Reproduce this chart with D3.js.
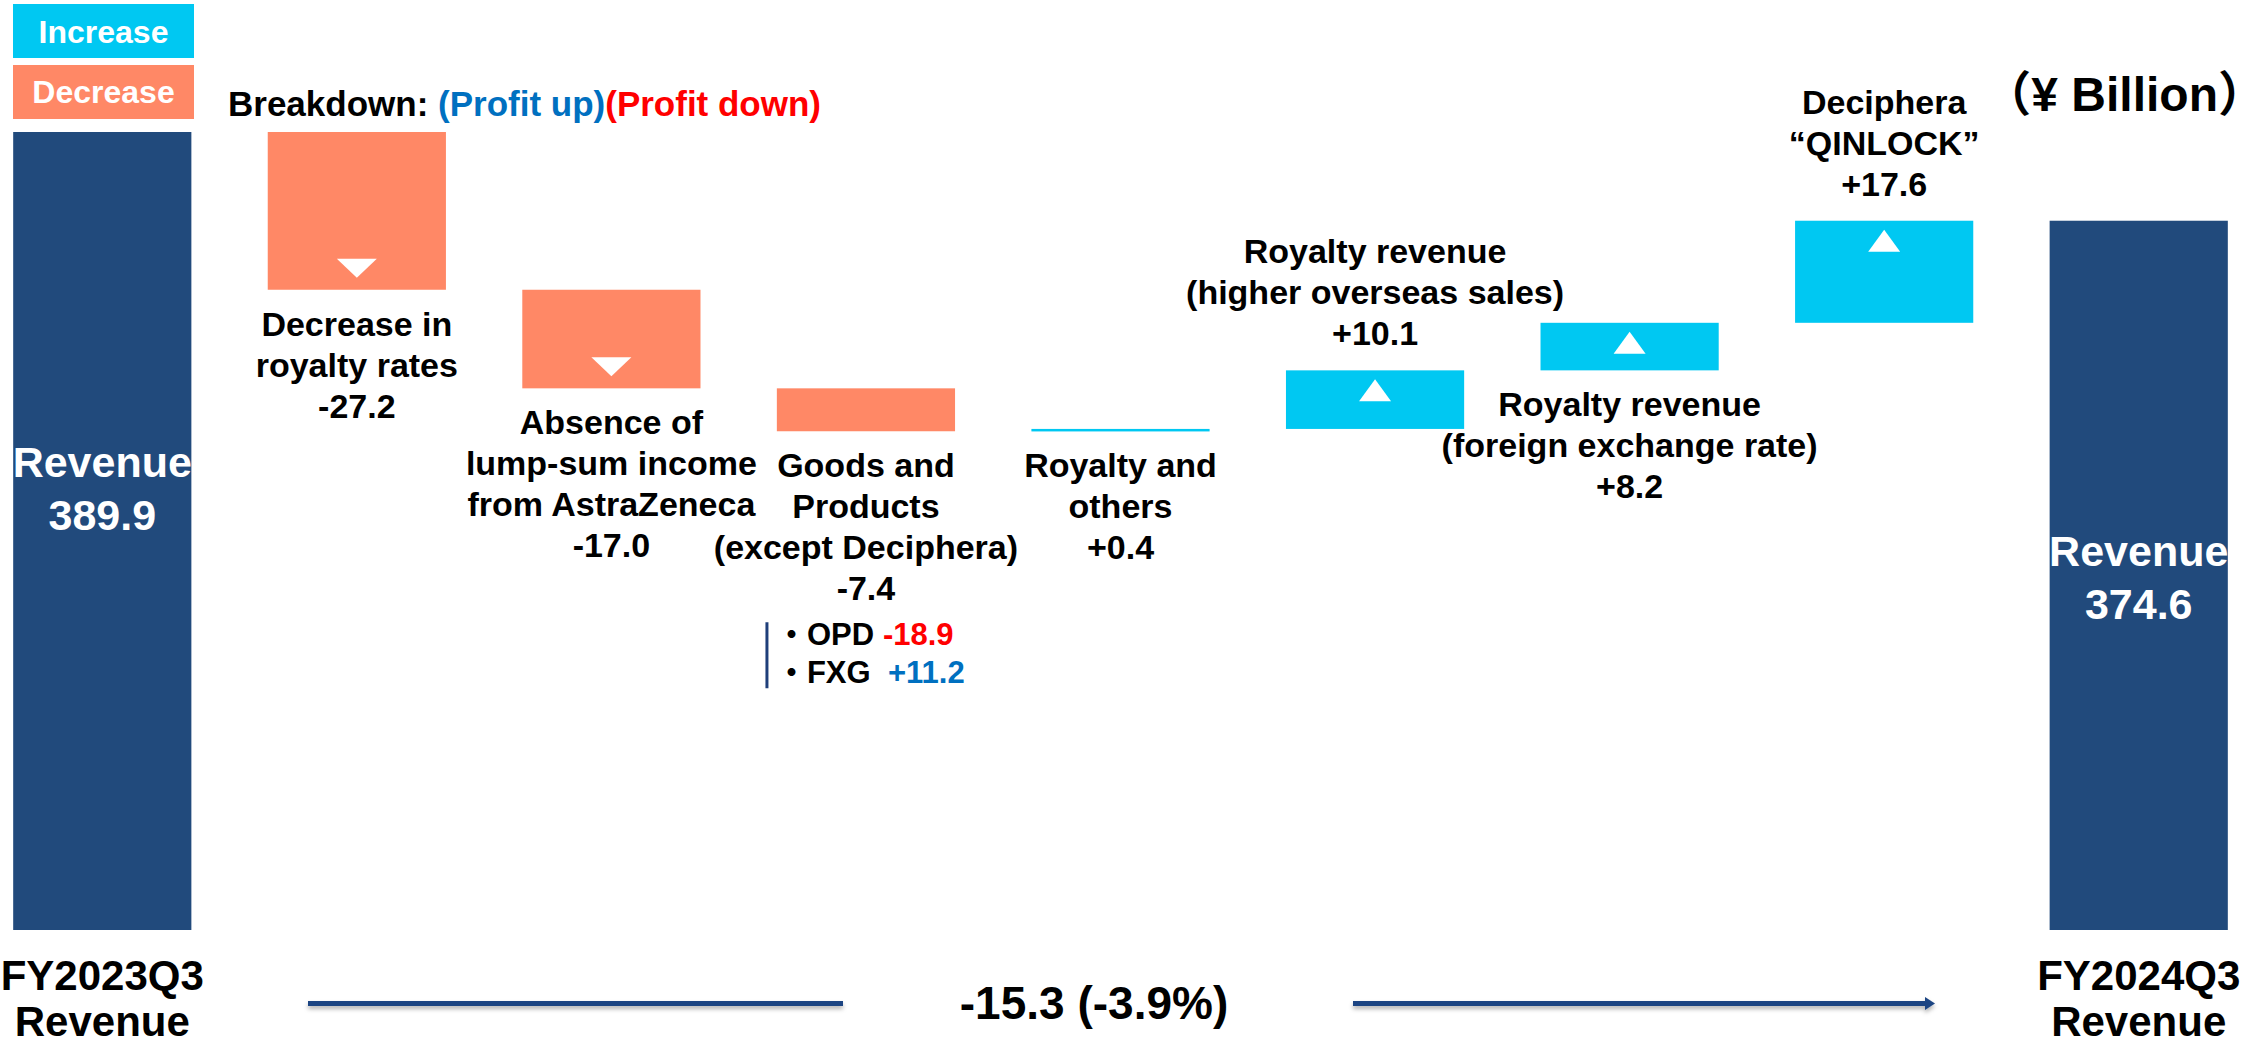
<!DOCTYPE html>
<html>
<head>
<meta charset="utf-8">
<script src="https://cdn.jsdelivr.net/npm/d3@7"></script>
<style>
  body { margin: 0; background: #fff; overflow: hidden; }
  svg text { font-family: "Liberation Sans", Arial, "Noto Sans CJK JP", sans-serif; font-weight: bold; }
</style>
</head>
<body>
<svg id="chart"></svg>
<script>
// chart data
var categories = ["FY2023Q3 Revenue", "Decrease in royalty rates", "Absence of lump-sum income from AstraZeneca",
    "Goods and Products (except Deciphera)", "Royalty and others", "Royalty revenue (higher overseas sales)",
    "Royalty revenue (foreign exchange rate)", "Deciphera QINLOCK", "FY2024Q3 Revenue"];
var values = [389.9, -27.2, -17.0, -7.4, 0.4, 10.1, 8.2, 17.6, 374.6];
var kinds = ["total", "dec", "dec", "dec", "inc", "inc", "inc", "inc", "total"];
var labelLines = [
    ["Revenue", "389.9"],
    ["Decrease in", "royalty rates", "-27.2"],
    ["Absence of", "lump-sum income", "from AstraZeneca", "-17.0"],
    ["Goods and", "Products", "(except Deciphera)", "-7.4"],
    ["Royalty and", "others", "+0.4"],
    ["Royalty revenue", "(higher overseas sales)", "+10.1"],
    ["Royalty revenue", "(foreign exchange rate)", "+8.2"],
    ["Deciphera", "\u201cQINLOCK\u201d", "+17.6"],
    ["Revenue", "374.6"]
];
var labelSide = ["inside", "below", "below", "below", "below", "above", "below", "above", "inside"];
var axisLabels = [["FY2023Q3", "Revenue"], ["FY2024Q3", "Revenue"]];
var breakdownNames = ["OPD", "FXG"];
var breakdownValues = [-18.9, 11.2];
var totalChange = "-15.3 (-3.9%)";

var visualisation = function(d3) {

    var width = 2267;
    var height = 1048;
    var colors = { total: "#214A7C", inc: "#00C8F2", dec: "#FF8866" };

    var x = d3.scaleBand()
        .domain(categories)
        .range([-25, 2266])
        .paddingInner(0.3)
        .paddingOuter(0.15);

    // broken axis: bars start from a hidden base value
    var y = d3.scaleLinear()
        .domain([252.3, 389.9])
        .range([930, 132]);

    function initMainCanvas() {
        var svg = d3.select("#chart")
            .attr("width", width)
            .attr("height", height);

        var defs = svg.append("defs");
        var f = defs.append("filter").attr("id", "shadow")
            .attr("filterUnits", "userSpaceOnUse")
            .attr("x", 0).attr("y", 980).attr("width", width).attr("height", 50);
        f.append("feDropShadow")
            .attr("dx", 0).attr("dy", 3)
            .attr("stdDeviation", 2)
            .attr("flood-color", "#000")
            .attr("flood-opacity", 0.3);
        return svg;
    }

    function buildSteps() {
        var running = 0;
        var base = y.domain()[0];
        return values.map(function(v, i) {
            var lo, hi;
            if (kinds[i] === "total") {
                lo = base; hi = v; running = v;
            } else {
                var start = running;
                running = running + v;
                lo = Math.min(start, running); hi = Math.max(start, running);
            }
            return { name: categories[i], kind: kinds[i], lo: lo, hi: hi, lines: labelLines[i], side: labelSide[i] };
        });
    }

    function draw(svg) {
        var steps = buildSteps();
        var bw = x.bandwidth();

        // legend
        var legend = [["Increase", colors.inc], ["Decrease", colors.dec]];
        legend.forEach(function(d, i) {
            svg.append("rect")
                .attr("x", 13).attr("y", 4 + i * 61)
                .attr("width", 181).attr("height", 54)
                .attr("fill", d[1]);
            svg.append("text")
                .attr("x", 103.5).attr("y", 43 + i * 60)
                .attr("text-anchor", "middle")
                .attr("fill", "#fff")
                .style("font-size", "32px")
                .text(d[0]);
        });

        var bd = svg.append("text")
            .attr("x", 228).attr("y", 116)
            .style("font-size", "35px");
        bd.append("tspan").attr("fill", "#000").text("Breakdown: ");
        bd.append("tspan").attr("fill", "#0070C0").text("(Profit up)");
        bd.append("tspan").attr("fill", "#FF0000").text("(Profit down)");

        svg.append("text")
            .attr("x", 2266).attr("y", 111)
            .attr("text-anchor", "end")
            .style("font-size", "48px")
            .text("\uff08\u00a5 Billion\uff09");

        // bars
        svg.selectAll(".bar")
            .data(steps)
            .enter()
            .append("rect")
            .attr("class", "bar")
            .attr("x", function(d) { return x(d.name); })
            .attr("y", function(d) { return y(d.hi); })
            .attr("width", bw)
            .attr("height", function(d) { return Math.max(2.5, y(d.lo) - y(d.hi)); })
            .attr("fill", function(d) { return colors[d.kind]; });

        // white arrows in the larger bars
        steps.forEach(function(d) {
            if (d.kind === "total") return;
            var top = y(d.hi), bottom = y(d.lo);
            if (bottom - top < 45) return;
            var cx = x(d.name) + bw / 2;
            var p;
            if (d.kind === "dec") {
                var tip = bottom - 12;
                p = [[cx - 20, tip - 19], [cx + 20, tip - 19], [cx, tip]];
            } else {
                var t = top + 9;
                p = [[cx, t], [cx + 16, t + 22], [cx - 16, t + 22]];
            }
            svg.append("path")
                .attr("d", "M" + p.join("L") + "Z")
                .attr("fill", "#fff");
        });

        // labels
        var lh = 41;
        steps.forEach(function(d) {
            var cx = x(d.name) + bw / 2;
            var t = svg.append("text")
                .attr("text-anchor", "middle")
                .style("font-size", d.side === "inside" ? "43px" : "34px")
                .attr("fill", d.side === "inside" ? "#fff" : "#000");
            var first;
            if (d.side === "inside") {
                first = y(d.hi) + 345;
            } else if (d.side === "below") {
                first = y(d.lo) + 46;
            } else {
                first = y(d.hi) - 25 - lh * (d.lines.length - 1);
            }
            d.lines.forEach(function(line, j) {
                t.append("tspan")
                    .attr("x", cx)
                    .attr("y", first + j * (d.side === "inside" ? 53 : lh))
                    .text(line);
            });
        });

        // breakdown of goods and products
        var g3 = steps[3];
        var c3 = x(g3.name) + bw / 2;
        var by = y(g3.lo) + 46 + lh * (g3.lines.length - 1);
        svg.append("line")
            .attr("x1", c3 - 99).attr("x2", c3 - 99)
            .attr("y1", by + 22).attr("y2", by + 88)
            .attr("stroke", "#1F3F7A").attr("stroke-width", 3);
        breakdownNames.forEach(function(n, i) {
            var v = breakdownValues[i];
            var t = svg.append("text")
                .attr("x", c3 - 90).attr("y", by + 45 + i * 38)
                .style("font-size", "31px");
            t.append("tspan").attr("fill", "#000").text("\u30fb" + n);
            t.append("tspan")
                .attr("x", c3 + (v < 0 ? 17 : 22))
                .attr("fill", v < 0 ? "#FF0000" : "#0070C0")
                .text((v > 0 ? "+" : "") + v.toFixed(1));
        });

        // bottom category labels
        [0, categories.length - 1].forEach(function(idx, k) {
            var cx = x(categories[idx]) + bw / 2;
            axisLabels[k].forEach(function(line, j) {
                svg.append("text")
                    .attr("x", cx).attr("y", 990 + j * 46)
                    .attr("text-anchor", "middle")
                    .style("font-size", "42px")
                    .text(line);
            });
        });

        // overall change arrow
        var ay = 1001;
        var arrow = svg.append("g").attr("filter", "url(#shadow)").attr("fill", "#1C4583");
        arrow.append("rect")
            .attr("x", 308).attr("y", ay).attr("width", 843 - 308).attr("height", 5);
        arrow.append("rect")
            .attr("x", 1353).attr("y", ay).attr("width", 1926 - 1353).attr("height", 5);
        arrow.append("path")
            .attr("d", "M1925," + (ay - 4) + "L1935," + (ay + 2.5) + "L1925," + (ay + 9) + "Z");
        svg.append("text")
            .attr("x", 1094).attr("y", 1019)
            .attr("text-anchor", "middle")
            .style("font-size", "46px")
            .text(totalChange);
    }

    return {
        show: function() {
            var svg = initMainCanvas();
            draw(svg);
        }
    };
}(d3);

visualisation.show();
</script>
</body>
</html>
